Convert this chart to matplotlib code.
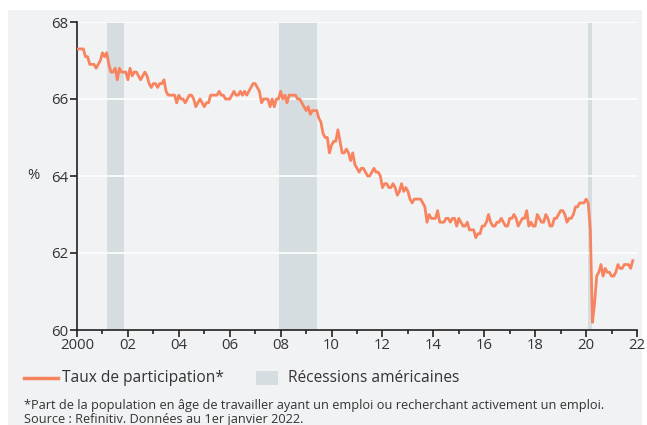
import numpy as np
import matplotlib
matplotlib.use("Agg")
import matplotlib.pyplot as plt
from matplotlib.lines import Line2D
from matplotlib.patches import Rectangle

# US labour force participation rate, monthly, Jan 2000 - Nov 2021 (%)
rate = [
    67.3, 67.3, 67.3, 67.3, 67.1, 67.1, 66.9, 66.9, 66.9, 66.8, 66.9, 67.0,  # 2000
    67.2, 67.1, 67.2, 66.9, 66.7, 66.7, 66.8, 66.5, 66.8, 66.7, 66.7, 66.7,  # 2001
    66.5, 66.8, 66.6, 66.7, 66.7, 66.6, 66.5, 66.6, 66.7, 66.6, 66.4, 66.3,  # 2002
    66.4, 66.4, 66.3, 66.4, 66.4, 66.5, 66.2, 66.1, 66.1, 66.1, 66.1, 65.9,  # 2003
    66.1, 66.0, 66.0, 65.9, 66.0, 66.1, 66.1, 66.0, 65.8, 65.9, 66.0, 65.9,  # 2004
    65.8, 65.9, 65.9, 66.1, 66.1, 66.1, 66.1, 66.2, 66.1, 66.1, 66.0, 66.0,  # 2005
    66.0, 66.1, 66.2, 66.1, 66.1, 66.2, 66.1, 66.2, 66.1, 66.2, 66.3, 66.4,  # 2006
    66.4, 66.3, 66.2, 65.9, 66.0, 66.0, 66.0, 65.8, 66.0, 65.8, 66.0, 66.0,  # 2007
    66.2, 66.0, 66.1, 65.9, 66.1, 66.1, 66.1, 66.1, 66.0, 66.0, 65.9, 65.8,  # 2008
    65.7, 65.8, 65.6, 65.7, 65.7, 65.7, 65.5, 65.4, 65.1, 65.0, 65.0, 64.6,  # 2009
    64.8, 64.9, 64.9, 65.2, 64.9, 64.6, 64.6, 64.7, 64.6, 64.4, 64.6, 64.3,  # 2010
    64.2, 64.1, 64.2, 64.2, 64.1, 64.0, 64.0, 64.1, 64.2, 64.1, 64.1, 64.0,  # 2011
    63.7, 63.8, 63.8, 63.7, 63.7, 63.8, 63.7, 63.5, 63.6, 63.8, 63.6, 63.7,  # 2012
    63.6, 63.4, 63.3, 63.4, 63.4, 63.4, 63.4, 63.3, 63.2, 62.8, 63.0, 62.9,  # 2013
    62.9, 62.9, 63.1, 62.8, 62.8, 62.8, 62.9, 62.9, 62.8, 62.9, 62.9, 62.7,  # 2014
    62.9, 62.8, 62.7, 62.7, 62.8, 62.6, 62.6, 62.6, 62.4, 62.5, 62.5, 62.7,  # 2015
    62.7, 62.8, 63.0, 62.8, 62.7, 62.7, 62.8, 62.8, 62.9, 62.8, 62.7, 62.7,  # 2016
    62.9, 62.9, 63.0, 62.9, 62.7, 62.8, 62.9, 62.9, 63.1, 62.7, 62.8, 62.7,  # 2017
    62.7, 63.0, 62.9, 62.8, 62.8, 63.0, 62.9, 62.7, 62.7, 62.9, 62.9, 63.0,  # 2018
    63.1, 63.1, 63.0, 62.8, 62.9, 62.9, 63.0, 63.2, 63.2, 63.3, 63.3, 63.3,  # 2019
    63.4, 63.3, 62.6, 60.2, 60.7, 61.4, 61.5, 61.7, 61.4, 61.6, 61.5, 61.5,  # 2020
    61.4, 61.4, 61.5, 61.7, 61.6, 61.6, 61.7, 61.7, 61.7, 61.6, 61.8,        # 2021
]
start_year = 2000

# US recessions (NBER), as (start, end) in decimal years
recessions = [(2001 + 2 / 12, 2001 + 10 / 12), (2007 + 11 / 12, 2009 + 5 / 12), (2020 + 1 / 12, 2020 + 3 / 12)]

xtick_years = list(range(2000, 2023, 2))
xtick_labels = ["2000"] + ["%02d" % (y % 100) for y in xtick_years[1:]]
yticks = [60, 62, 64, 66, 68]

line_col = "#f7845f"
rec_col = "#d5dde1"
bg_col = "#f1f2f4"
txt_col = "#333333"

plt.rcParams["font.family"] = ["Open Sans", "DejaVu Sans"]

fig = plt.figure(figsize=(6.47, 4.25), dpi=100)
fig.patch.set_facecolor("white")
fig.add_artist(Rectangle((8 / 647, 0), 634 / 647, 415 / 425, transform=fig.transFigure,
                         facecolor=bg_col, edgecolor="none", zorder=-10))

ax = fig.add_axes([77 / 647, 95 / 425, 560 / 647, 308 / 425])
ax.patch.set_alpha(0)

months = start_year + np.arange(len(rate)) / 12
for s, e in recessions:
    ax.axvspan(s, e, color=rec_col, lw=0, zorder=1)
for y in yticks[1:]:
    ax.axhline(y, color="white", lw=1.2, zorder=2)
ax.plot(months, rate, color=line_col, lw=2, zorder=3, solid_joinstyle="round")

ax.set_xlim(2000, 2022)
ax.set_ylim(60, 68)
ax.set_xticks(xtick_years)
ax.set_xticklabels(xtick_labels)
ax.set_xticks(range(2001, 2022, 2), minor=True)
ax.set_yticks(yticks)

for side in ["top", "right"]:
    ax.spines[side].set_visible(False)
for side in ["left", "bottom"]:
    ax.spines[side].set_color("#222222")
    ax.spines[side].set_linewidth(1.2)
ax.tick_params(axis="both", which="major", length=5, width=1.2, color="#222222",
               labelsize=10.7, labelcolor=txt_col, pad=1)
ax.tick_params(axis="x", which="minor", length=3, width=1.2, color="#222222")

fig.text(27 / 647, 1 - 176 / 425, "%", fontsize=10.7, color=txt_col, va="center", ha="left")

# legend
fig.add_artist(Line2D([24 / 647, 58 / 647], [1 - 378 / 425] * 2, transform=fig.transFigure,
                      color=line_col, lw=2.5))
fig.text(62 / 647, 1 - 378 / 425, "Taux de participation*", fontsize=11.2, color=txt_col,
         va="center", ha="left")
fig.add_artist(Rectangle((256 / 647, 1 - 385 / 425), 22 / 647, 14 / 425, transform=fig.transFigure,
                         facecolor=rec_col, edgecolor="none"))
fig.text(288 / 647, 1 - 378 / 425, "Récessions américaines", fontsize=11.2, color=txt_col,
         va="center", ha="left")

fig.text(24 / 647, 1 - 405 / 425,
         "*Part de la population en âge de travailler ayant un emploi ou recherchant activement un emploi.",
         fontsize=9.15, color=txt_col, va="center", ha="left")
fig.text(24 / 647, 1 - 419 / 425, "Source : Refinitiv. Données au 1er janvier 2022.",
         fontsize=9.15, color=txt_col, va="center", ha="left")

fig.savefig("out.png", dpi=100)
